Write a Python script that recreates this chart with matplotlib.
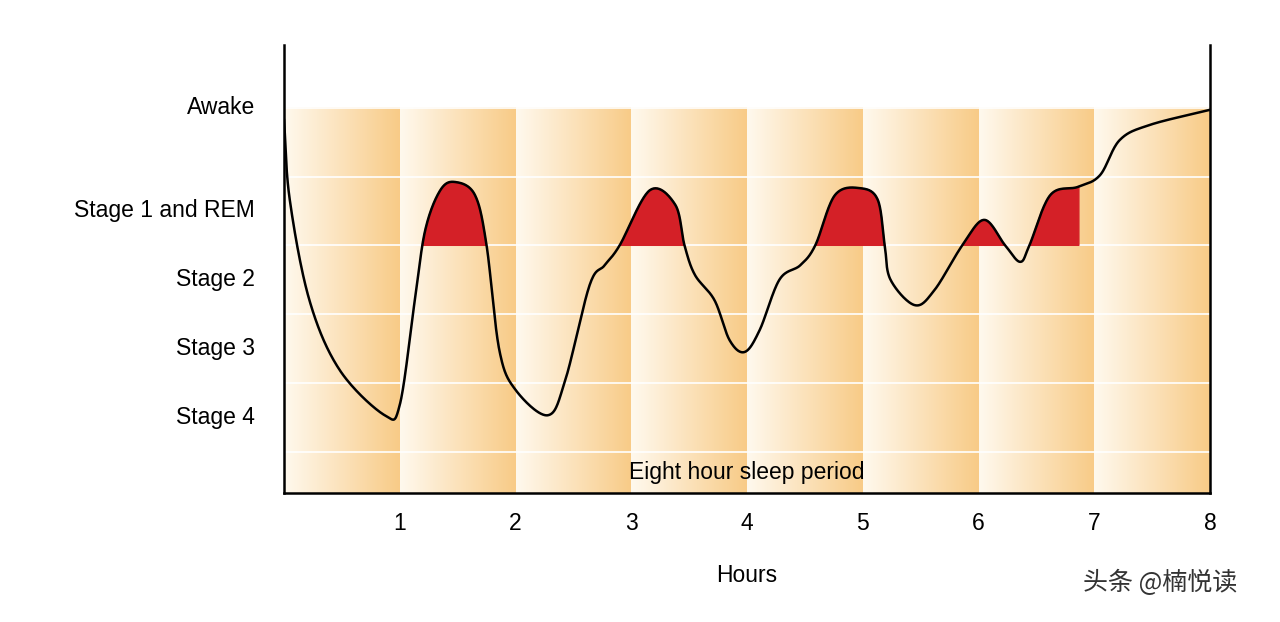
import numpy as np
import matplotlib
matplotlib.use("Agg")
import matplotlib.pyplot as plt

hours = [0.0,0.05,0.22,0.48,0.87,1.0,1.13,1.22,1.35,1.48,1.65,1.75,1.86,2.0,2.28,2.43,2.64,2.77,2.9,3.16,3.38,3.46,3.55,3.72,3.85,3.98,4.11,4.28,4.46,4.59,4.76,4.98,5.13,5.19,5.24,5.45,5.62,5.86,6.05,6.23,6.36,6.44,6.62,6.86,7.05,7.22,7.48,8.0]
level = [4.82,3.66,2.2,1.19,0.53,0.68,2.2,3.22,3.8,3.92,3.73,3.0,1.48,0.9,0.53,1.04,2.42,2.71,3.0,3.8,3.59,3.0,2.57,2.2,1.62,1.45,1.77,2.5,2.71,3.0,3.73,3.83,3.66,3.0,2.5,2.13,2.35,3.0,3.37,3.0,2.76,3.0,3.73,3.85,4.02,4.53,4.75,4.97]
stage_labels = ["Awake","Stage 1 and REM","Stage 2","Stage 3","Stage 4"]
stage_pos = [5.0,3.5,2.5,1.5,0.5]
xticks = [1,2,3,4,5,6,7,8]
rem_start, rem_end = 1.0, 6.87

def catmull(x, y, n=30):
    x = np.asarray(x); y = np.asarray(y)
    px = np.concatenate([[2*x[0]-x[1]], x, [2*x[-1]-x[-2]]])
    py = np.concatenate([[2*y[0]-y[1]], y, [2*y[-1]-y[-2]]])
    X=[];Y=[]
    t = np.linspace(0,1,n,endpoint=False)
    for i in range(1,len(px)-2):
        for arr,out in ((px,X),(py,Y)):
            p0,p1,p2,p3 = arr[i-1],arr[i],arr[i+1],arr[i+2]
            out.extend(0.5*((2*p1)+(-p0+p2)*t+(2*p0-5*p1+4*p2-p3)*t**2+(-p0+3*p1-3*p2+p3)*t**3))
    X.append(x[-1]);Y.append(y[-1])
    return np.array(X),np.array(Y)

fig = plt.figure(figsize=(12.8,6.22),dpi=100)
ax = fig.add_axes([284/1280, 1-493/622, 926/1280, 448/622])
ymin, ymax = -0.6, -0.6+448/68.8
ax.set_xlim(0,8); ax.set_ylim(ymin,ymax)

grad = np.linspace(0,1,256)
c0 = np.array([255,249,238])/255; c1 = np.array([248,203,135])/255
img = (c0[None,:]*(1-grad[:,None])+c1[None,:]*grad[:,None])[None,:,:]
for h in range(8):
    ax.imshow(img, extent=[h,h+1,ymin,5.0], aspect='auto', zorder=0, interpolation='bilinear')
for g in range(0,6):
    ax.axhline(g, color='white', lw=1.2, zorder=1)

X,Y = catmull(hours, level)
ax.fill_between(X, 3.0, Y, where=(Y>3.0)&(X<=rem_end)&(X>=rem_start), color='#d42027', zorder=2, interpolate=True)
ax.plot(X,Y,color='black',lw=1.8,zorder=3)

fs = 16.5
ax.text(4,-0.3,"Eight hour sleep period",ha='center',va='center',fontsize=fs,family='Liberation Sans')
for s,p in zip(stage_labels,stage_pos):
    fig.text(255/1280, (ax.transData.transform((0,p))[1])/622, s, ha='right', va='center', fontsize=fs, family='Liberation Sans')
ax.set_xticks(xticks)
ax.set_xticklabels([str(t) for t in xticks], fontsize=fs, family='Liberation Sans')
ax.tick_params(axis='x', length=0, pad=14)
ax.set_yticks([])
ax.text(4,-1.8,"Hours",ha='center',va='center',fontsize=fs,family='Liberation Sans')
for sp in ['left','right','bottom']:
    ax.spines[sp].set_linewidth(1.8)
ax.spines['top'].set_visible(False)
fig.text(1160/1280, 1-583/622, "头条 @楠悦读", ha='center', va='center', fontsize=18, color='#333333',
         family=['Noto Sans CJK SC','DejaVu Sans'])
fig.savefig("out.png",dpi=100,facecolor='white')
